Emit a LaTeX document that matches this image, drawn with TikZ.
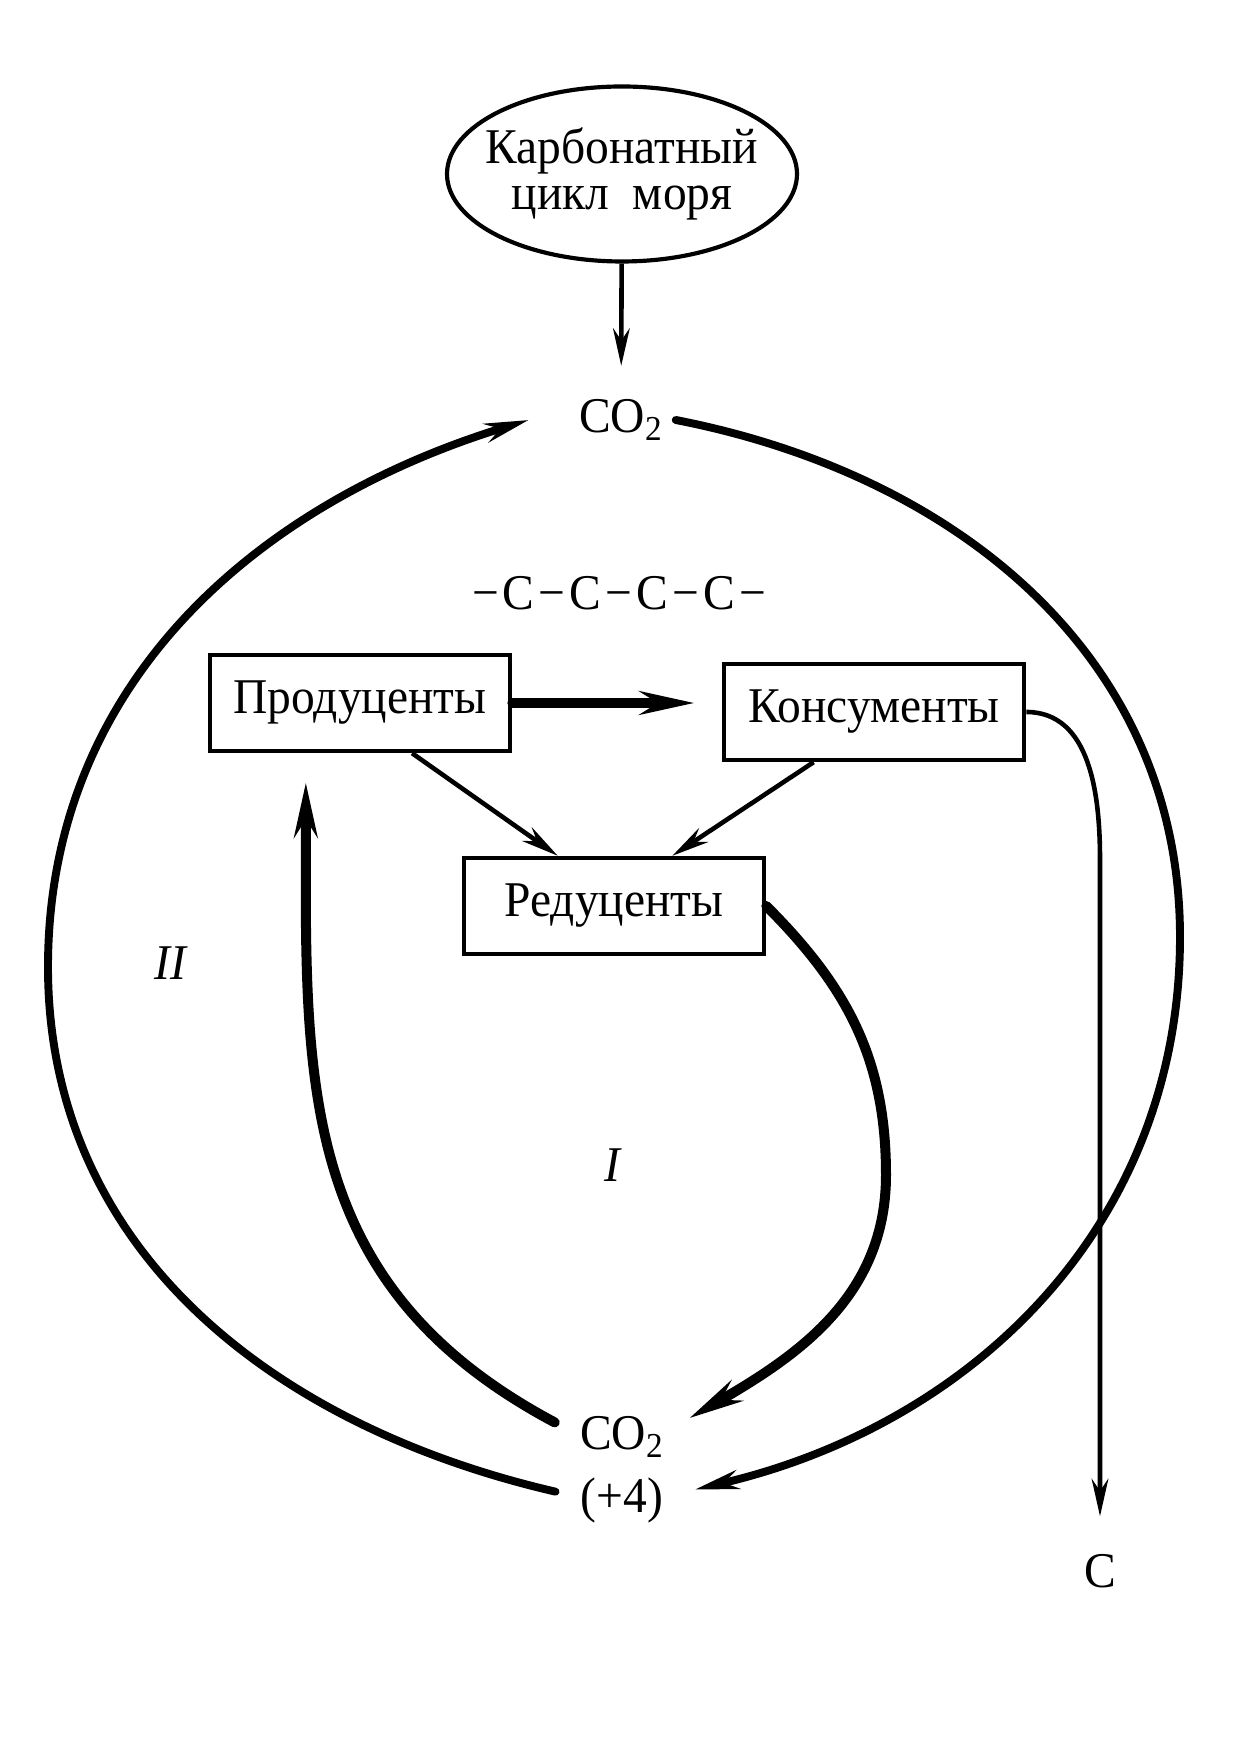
\documentclass[tikz,border=0pt]{standalone}
\usepackage{fontspec}
\setmainfont{Liberation Serif}[FakeStretch=0.95]
\usetikzlibrary{arrows.meta,shapes.geometric}

\begin{document}
\begin{tikzpicture}[x=0.48pt,y=0.48pt,
  every node/.style={font=\fontsize{24}{25}\selectfont},
  box/.style={draw, line width=2.2pt, minimum width=144pt, minimum height=46pt},
  chem/.style={inner sep=0pt},
  fine/.style={line width=2.2pt, -{Stealth[length=18pt,width=8pt]}},
  heavy/.style={line width=4.8pt, line cap=round, -{Stealth[length=26pt,width=11pt]}},
  loop/.style={line width=3.8pt, line cap=round, -{Stealth[length=21pt,width=9pt]}}]
\useasboundingbox (0,0) rectangle (1240,1748);

\node (K) at (622,1574) [draw, ellipse, line width=2pt, inner xsep=-7pt, inner ysep=2pt, minimum width=168pt, minimum height=84pt, align=center, font=\fontsize{24}{22}\selectfont] {Карбонатный\\цикл\ \ моря};
\node (CO2) at (621,1328) [chem] {CO\textsubscript{2}};
\node (chain) at (619,1155) [] {−\kern2pt C\kern2pt−\kern2pt C\kern2pt−\kern2pt C\kern2pt−\kern2pt C\kern2pt−};
\node (P) at (360,1045) [box] {Продуценты};
\node (Kn) at (874,1036) [box] {Консументы};
\node (R) at (614,842) [box] {Редуценты};
\node (II) at (170,785) [] {\itshape II};
\node (I) at (612,583) [] {\itshape I};
\node (CO2b) at (622,311) [chem] {CO\textsubscript{2}};
\node (ox) at (622,248) [chem] {(+4)};
\node (C) at (1100,177) [chem] {C};

\coordinate (L) at (48,781);
\coordinate (Rt) at (1180,811);
\coordinate (Rb) at (886,573);
\coordinate (bend) at (1100,888);

\draw [fine, shorten >=16pt] (K) -- (CO2);
\draw [heavy, shorten >=13pt] (P.east) -- (P.east -| Kn.west);
\draw [fine] ([xshift=25pt]P.south) -- ([xshift=-27pt]R.north);
\draw [fine] ([xshift=-29pt]Kn.south) -- ([xshift=28pt]R.north);
\draw [fine, shorten >=18pt] (Kn.east) to[out=0,in=90] (bend) -- (C);
\draw [heavy] (R.east) to[out=-45,in=90] (Rb) to[out=-90,in=30] ([shift={(12pt,9pt)}]CO2b.east);
\draw [heavy, looseness=1.1] ([shift={(-12pt,7pt)}]CO2b.west) to[out=152,in=-90] ([shift={(-26pt,-14pt)}]P.south);
\draw [loop] ([shift={(-12pt,4pt)}]ox.west) to[out=167,in=-90] (L) to[out=90,in=197] ([xshift=-24pt]CO2.west);
\draw [loop] ([xshift=6pt]CO2.east) to[out=-11,in=90] (Rt) to[out=-90,in=13] ([shift={(15pt,5pt)}]ox.east);
\end{tikzpicture}
\end{document}
